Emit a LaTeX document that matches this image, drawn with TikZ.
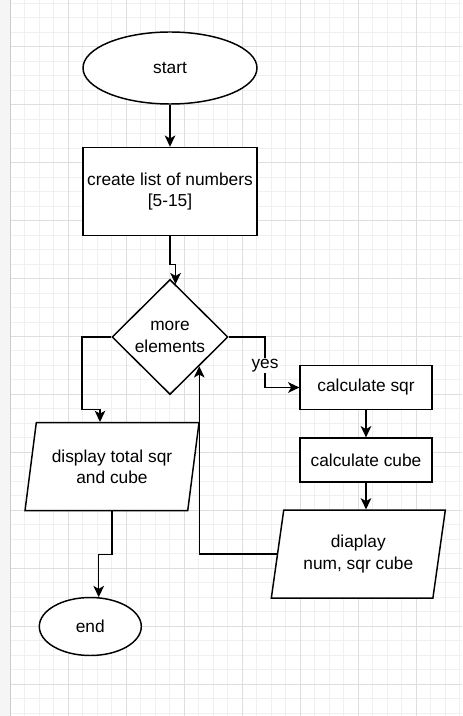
\documentclass[tikz,border=0pt]{standalone}
\usepackage{fontspec}
\setmainfont{Liberation Sans}
\usetikzlibrary{shapes.geometric,arrows.meta}

\begin{document}
\begin{tikzpicture}[x=0.75pt, y=-0.75pt, line width=1.1pt,
    font=\fontsize{13}{16.2}\selectfont,
    >={Stealth[length=8.5pt,width=8pt,inset=2.3pt]}]
    \tikzstyle{minor grid}=[draw=black!6, line width=0.75pt]
    \tikzstyle{major grid}=[draw=black!13, line width=0.75pt]
    \tikzstyle{block}=[draw, fill=white, align=center, inner sep=1pt]
    \tikzstyle{terminal}=[block, ellipse]
    \tikzstyle{process}=[block, rectangle, minimum width=98.8pt, minimum height=32.8pt]
    \tikzstyle{decision}=[block, diamond, inner sep=0pt, minimum width=87pt, minimum height=86.3pt]
    \tikzstyle{io}=[block, trapezium, trapezium left angle=71.8, trapezium right angle=108.2,
        trapezium stretches body, inner xsep=-12pt, inner ysep=0pt,
        minimum width=130.5pt, minimum height=66pt]
    \tikzstyle{flow}=[->]

    \useasboundingbox (0,0) rectangle (462,716);
    \fill[white] (0,0) rectangle (462,716);

    % grid of the page
    \foreach \k in {0,...,31}
    \draw[minor grid] ({10.5+14.49*\k},0) -- ++(0,716);
    \foreach \k in {-3,...,46}
    \draw[minor grid] (0,{46.7+14.49*\k}) -- ++(462,0);
    \foreach \k in {0,...,7}
    \draw[major grid] ({10.5+57.96*\k},0) -- ++(0,716);
    \foreach \k in {0,...,11}
    \draw[major grid] (0,{46.7+57.96*\k}) -- ++(462,0);
    \fill[black!4] (0,0) rectangle (10,716);
    \draw[black!20, line width=0.75pt] (10,0) -- (10,716);

    % the blocks
    \node [terminal, minimum width=130.5pt, minimum height=54pt] (term-start) at (170,68) {start};
    \node [process, minimum width=130.5pt, minimum height=66pt] (process-list) at (170,191.5)
    {create list of numbers\\{}[5-15]};
    \node [decision] (decision-more) at (170,337) {more\\elements};
    \node [process] (process-sqr) at (366,387.5) {calculate sqr};
    \node [process] (process-cube) at (366,460) {calculate cube};
    \node [io] (io-each) at (358.3,554.2) {diaplay\\num, sqr cube};
    \node [io] (io-total) at (112,466.7) {display total sqr\\and cube};
    \node [terminal, minimum width=76.5pt, minimum height=43.5pt] (term-end) at (90.3,626.5) {end};

    % Draw the main flow
    \draw[flow] (term-start) -- (process-list);
    \draw[flow] (process-list.south) -- ++(0,28.5) -| (decision-more.84);
    \draw[flow] (decision-more.east) -- ++(36.3,0)
    |- node[pos=0.25, fill=white, inner sep=1pt, yshift=-2.5pt]{yes} (process-sqr.west);
    \draw[flow] (process-sqr) -- (process-cube);
    \draw[flow] (process-cube.south) -- (process-cube.south |- io-each.north);

    % loop back and exit
    \draw[flow] (io-each.west) -| (decision-more.-45);
    \draw[flow] (decision-more.west) -| ++(-29.3,72.6) -| (io-total.105);
    \draw[flow] (io-total.south) -- ++(0,43.3) -| (term-end.74);

\end{tikzpicture}
\end{document}
